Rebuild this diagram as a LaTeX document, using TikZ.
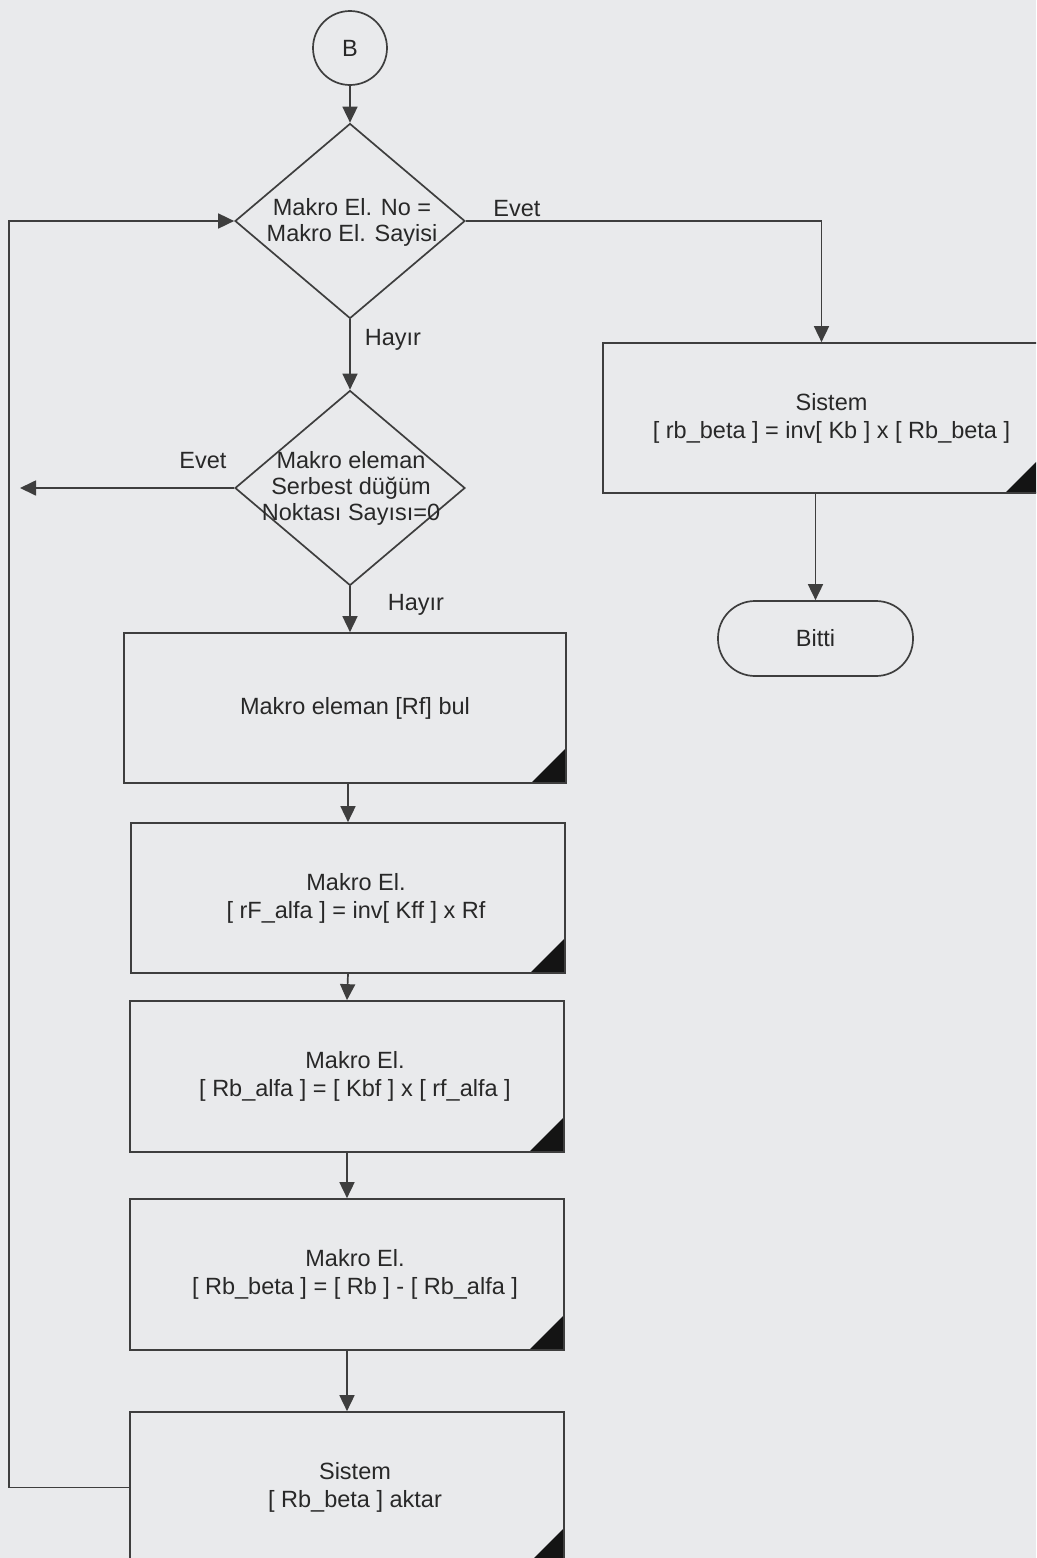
\documentclass[tikz,border=0pt]{standalone}
\usepackage{fontspec}
\setmainfont{Liberation Sans}
\usetikzlibrary{shapes.geometric,arrows.meta}
\definecolor{bg}{RGB}{233,234,236}
\definecolor{ln}{RGB}{62,62,62}
\definecolor{tx}{RGB}{40,40,40}
\begin{document}
\begin{tikzpicture}[x=1pt,y=-1pt,
  every node/.style={text=tx, font=\fontsize{23.5}{28}\selectfont},
  lin/.style={draw=ln, line width=1.7pt},
  arr/.style={draw=ln, line width=1.7pt, -{Triangle[length=16pt,width=15pt]}},
  procbox/.style={draw=ln, line width=1.7pt, rectangle, inner sep=0pt,
    minimum width=434pt, minimum height=151pt,
    path picture={\fill[black!92] (path picture bounding box.south east) -- ++(-35pt,0pt) -- ++(35pt,35pt) -- cycle;}},
  decis/.style={draw=ln, line width=1.7pt, diamond, inner sep=0pt, minimum width=230pt, minimum height=195pt},
  txt/.style={align=center, inner sep=0pt},
  dtxt/.style={align=center, inner sep=0pt, font=\fontsize{23.5}{26}\selectfont},
  lbl/.style={inner sep=0pt}]
\clip (0,0) rectangle (1036,1558);
\fill[bg] (0,0) rectangle (1036,1558);

% start connector
\node[draw=ln, line width=1.7pt, circle, minimum size=74pt, inner sep=0pt] (B) at (350,48) {B};

% decisions
\node[decis] (d1) at (350,221) {};
\node[dtxt] (d1t) at (352,222) {Makro El. No =\\Makro El. Sayisi};
\node[decis] (d2) at (350,488) {};
\node[dtxt] (d2t) at (351,488) {Makro eleman\\Serbest düğüm\\Noktası Sayısı=0};

% process boxes
\node[procbox, minimum width=442pt, minimum height=150pt] (b1) at (345,708) {};
\node[txt] (b1t) at ([xshift=10pt]b1.center) {Makro eleman [Rf] bul};
\node[procbox, minimum height=150pt] (b2) at (348,898) {};
\node[txt] (b2t) at ([xshift=8pt]b2.center) {Makro El.\\ {[} rF\_alfa ] = inv[ Kff ] x Rf};
\node[procbox] (b3) at (347,1076.5) {};
\node[txt] (b3t) at ([xshift=8pt]b3.center) {Makro El.\\ {[} Rb\_alfa ] = [ Kbf ] x [ rf\_alfa ]};
\node[procbox] (b4) at (347,1274.5) {};
\node[txt] (b4t) at ([xshift=8pt]b4.center) {Makro El.\\ {[} Rb\_beta ] = [ Rb ] - [ Rb\_alfa ]};
\node[procbox] (b5) at (347,1487.5) {};
\node[txt] (b5t) at ([xshift=8pt]b5.center) {Sistem\\ {[} Rb\_beta ] aktar};

% right branch
\node[procbox, minimum width=437pt, minimum height=150pt] (rb) at (821.5,418) {};
\node[txt] (rbt) at ([xshift=10pt]rb.center) {Sistem\\ {[} rb\_beta ] = inv[ Kb ] x [ Rb\_beta ]};
\node[draw=ln, line width=1.7pt, rectangle, rounded corners=37pt, minimum width=195pt, minimum height=75pt, inner sep=0pt] (end) at (815.5,638.5) {Bitti};

% labels
\node[lbl] (e1) at (517,209) {Evet};
\node[lbl] (h1) at (393,340) {Hayır};
\node[lbl] (e2) at (203,461) {Evet};
\node[lbl] (h2) at (416,605) {Hayır};

% helper coordinates
\coordinate (lt) at (9,221);
\coordinate (lx) at (20,488);

% connectors
\draw[arr] (B.south) -- (d1.north);
\draw[arr] (d1.south) -- (d2.north);
\draw[arr] (d1.east) -| (rb.north);
\draw[arr] (end.north |- rb.south) -- (end.north);
\draw[arr] (d2.west) -- (lx);
\draw[arr] (d2.south) -- (d2.south |- b1.north);
\draw[arr] (b2.north |- b1.south) -- (b2.north);
\draw[arr] (b2.south) -- (b3.north);
\draw[arr] (b3.south) -- (b4.north);
\draw[arr] (b4.south) -- (b5.north);
\draw[arr] (b5.west) -| (lt) -- (d1.west);
\end{tikzpicture}
\end{document}
